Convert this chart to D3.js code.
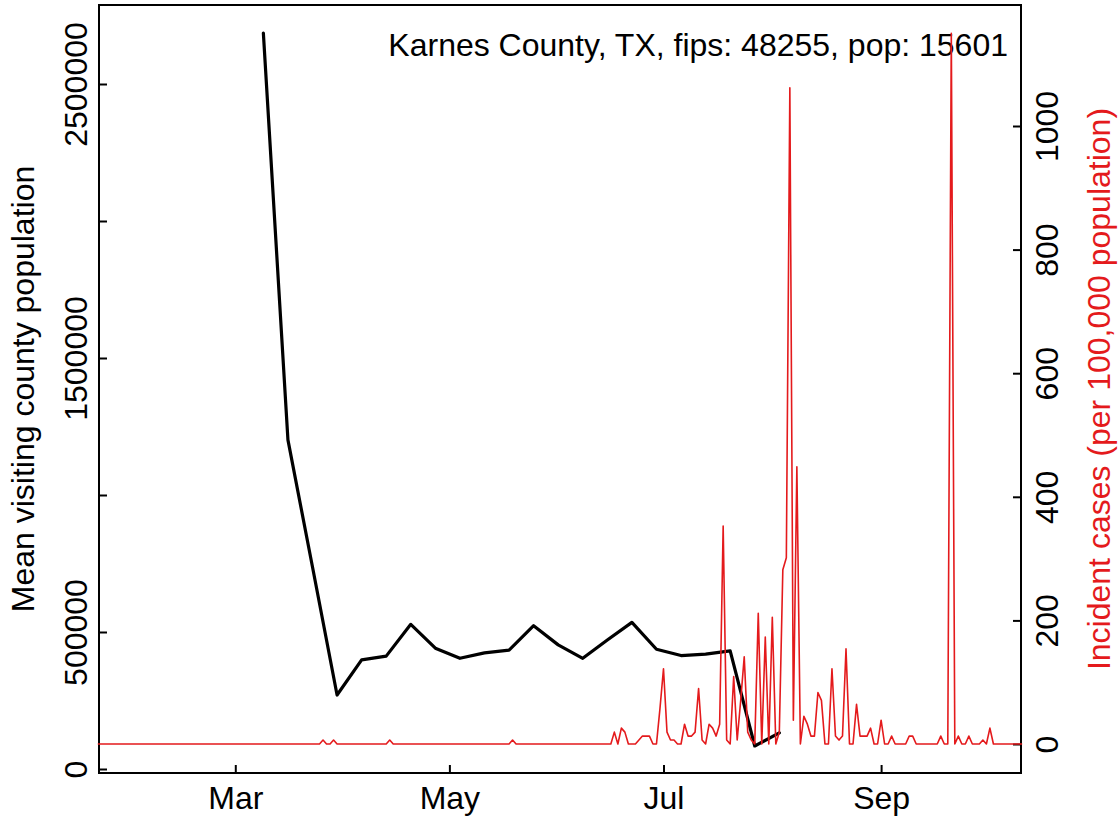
<!DOCTYPE html>
<html>
<head>
<meta charset="utf-8">
<script src="https://cdn.jsdelivr.net/npm/d3@7"></script>
<style>
  html, body { margin: 0; padding: 0; background: #fff; }
  text { font-family: "Liberation Sans", Arial, Helvetica, sans-serif; }
</style>
</head>
<body>
<svg id="chart" width="1119" height="822"></svg>
<script>
// ---------- data ----------
const titleText = "Karnes County, TX, fips: 48255, pop: 15601";
const leftAxisTitle = "Mean visiting county population";
const rightAxisTitle = "Incident cases (per 100,000 population)";

// weekly mean visiting county population (black line)
const visitDates = ["2020-03-09","2020-03-16","2020-03-23","2020-03-30","2020-04-06","2020-04-13",
  "2020-04-20","2020-04-27","2020-05-04","2020-05-11","2020-05-18","2020-05-25","2020-06-01",
  "2020-06-08","2020-06-15","2020-06-22","2020-06-29","2020-07-06","2020-07-13","2020-07-20",
  "2020-07-27","2020-08-03"];
const visitValues = [2686000,1201000,737000,270000,398000,412000,
  528000,441000,404000,424000,434000,523000,453000,
  404000,471000,535000,437000,414000,419000,431000,
  84000,132000];

// daily incident cases per 100,000 (red line), first day 2020-01-22
const caseStart = "2020-01-22";
const caseValues = [
  0,0,0,0,0,0,0,0,0,0, 0,0,0,0,0,0,0,0,0,0,            // 0-19
  0,0,0,0,0,0,0,0,0,0, 0,0,0,0,0,0,0,0,0,0,            // 20-39
  0,0,0,0,0,0,0,0,0,0, 0,0,0,0,0,0,0,0,0,0,            // 40-59
  0,0,0,0,6.41,0,0,6.41,0,0, 0,0,0,0,0,0,0,0,0,0,      // 60-79
  0,0,0,6.41,0,0,0,0,0,0, 0,0,0,0,0,0,0,0,0,0,         // 80-99
  0,0,0,0,0,0,0,0,0,0, 0,0,0,0,0,0,0,0,6.41,0,         // 100-119
  0,0,0,0,0,0,0,0,0,0, 0,0,0,0,0,0,0,0,0,0,            // 120-139
  0,0,0,0,0,0,0,19.23,0,25.64,                         // 140-149
  19.23,0,0,0,6.41,12.82,12.82,12.82,0,0,              // 150-159
  57.69,121.79,19.23,6.41,6.41,0,0,32.05,12.82,12.82,  // 160-169
  19.23,89.74,6.41,0,32.05,25.64,12.82,32.05,352.56,6.41, // 170-179
  0,108.97,6.41,70.51,141.03,19.23,6.41,0,211.54,0,    // 180-189
  173.08,0,205.13,0,19.23,282.05,301.28,1062.0,38.46,448.72, // 190-199
  0,44.87,32.05,12.82,12.82,83.33,70.51,0,0,121.79,    // 200-209
  12.82,6.41,12.82,153.85,0,0,64.10,12.82,12.82,12.82, // 210-219
  25.64,0,0,38.46,0,0,12.82,0,0,0,                     // 220-229
  0,12.82,12.82,0,0,0,0,0,0,0,                         // 230-239
  12.82,0,0,1150.0,0,12.82,0,0,12.82,0,                // 240-249
  0,0,6.41,0,25.64,0,0,0,0,0,                          // 250-259
  0,0,0,0                                              // 260-263
];

const xDomain = ["2020-01-22","2020-10-11"];
const xTickDates = ["2020-03-01","2020-05-01","2020-07-01","2020-09-01"];
const xTickLabels = ["Mar","May","Jul","Sep"];
const leftTicks = [0,500000,1000000,1500000,2000000,2500000];
const leftTickLabels = ["0","500000","","1500000","","2500000"];
const rightTicks = [0,200,400,600,800,1000];
const rightTickLabels = ["0","200","400","600","800","1000"];

// ---------- layout ----------
const box = {left: 99, right: 1021, top: 5, bottom: 773};
const RED = "#e41a1c";
const FONT = 32;

const parse = d3.utcParse("%Y-%m-%d");
const svg = d3.select("#chart");

const x = d3.scaleUtc().domain(xDomain.map(parse)).range([98.4, 1021.5]);
const yL = d3.scaleLinear().domain([0, 2500000]).range([769, 84]);
const yR = d3.scaleLinear().domain([0, 1000]).range([744, 126]);

const visit = visitDates.map((d,i) => ({date: parse(d), v: visitValues[i]}));
const start = parse(caseStart);
const cases = caseValues.map((v,i) => ({date: d3.utcDay.offset(start, i), v}));

// box
svg.append("rect")
  .attr("x", box.left).attr("y", box.top)
  .attr("width", box.right - box.left).attr("height", box.bottom - box.top)
  .attr("fill", "none").attr("stroke", "#000").attr("stroke-width", 2);

// left axis
const gL = svg.append("g").attr("transform", `translate(${box.left},0)`)
  .call(d3.axisLeft(yL).tickValues(leftTicks).tickSize(-8)
        .tickFormat((d,i) => leftTickLabels[i]));
gL.select(".domain").remove();
gL.selectAll(".tick line").attr("stroke", "#000").attr("stroke-width", 2);
gL.selectAll(".tick text")
  .attr("x", null).attr("dy", null).attr("y", null)
  .attr("text-anchor", "middle")
  .attr("transform", "translate(-12,0) rotate(-90)")
  .attr("font-size", FONT).attr("fill", "#000")
  .style("font-family", '"Liberation Sans", Arial, sans-serif');

// right axis
const gR = svg.append("g").attr("transform", `translate(${box.right},0)`)
  .call(d3.axisRight(yR).tickValues(rightTicks).tickSize(-8)
        .tickFormat((d,i) => rightTickLabels[i]));
gR.select(".domain").remove();
gR.selectAll(".tick line").attr("stroke", "#000").attr("stroke-width", 2);
gR.selectAll(".tick text")
  .attr("x", null).attr("dy", null).attr("y", null)
  .attr("text-anchor", "middle")
  .attr("transform", "translate(37,0) rotate(-90)")
  .attr("font-size", FONT).attr("fill", "#000")
  .style("font-family", '"Liberation Sans", Arial, sans-serif');

// bottom axis
const gB = svg.append("g").attr("transform", `translate(0,${box.bottom})`)
  .call(d3.axisBottom(x).tickValues(xTickDates.map(parse)).tickSize(-8)
        .tickFormat((d,i) => xTickLabels[i]));
gB.select(".domain").remove();
gB.selectAll(".tick line").attr("stroke", "#000").attr("stroke-width", 2);
gB.selectAll(".tick text")
  .attr("y", 36).attr("dy", null)
  .attr("font-size", FONT).attr("fill", "#000")
  .style("font-family", '"Liberation Sans", Arial, sans-serif');

// axis titles
svg.append("text")
  .attr("transform", `translate(34,389) rotate(-90)`)
  .attr("text-anchor", "middle").attr("font-size", FONT).attr("fill", "#000")
  .text(leftAxisTitle);
svg.append("text")
  .attr("transform", `translate(1110,389) rotate(-90)`)
  .attr("text-anchor", "middle").attr("font-size", FONT).attr("fill", RED)
  .text(rightAxisTitle);

// black line
svg.append("path").datum(visit)
  .attr("fill", "none").attr("stroke", "#000").attr("stroke-width", 3.2)
  .attr("stroke-linejoin", "round").attr("stroke-linecap", "round")
  .attr("d", d3.line().x(d => x(d.date)).y(d => yL(d.v)));

// title
svg.append("text")
  .attr("x", 1008).attr("y", 56)
  .attr("text-anchor", "end").attr("font-size", FONT).attr("fill", "#000")
  .text(titleText);

// red line
svg.append("path").datum(cases)
  .attr("fill", "none").attr("stroke", RED).attr("stroke-width", 1.6)
  .attr("stroke-linejoin", "round").attr("stroke-linecap", "round")
  .attr("d", d3.line().x(d => x(d.date)).y(d => yR(d.v)));
</script>
</body>
</html>
